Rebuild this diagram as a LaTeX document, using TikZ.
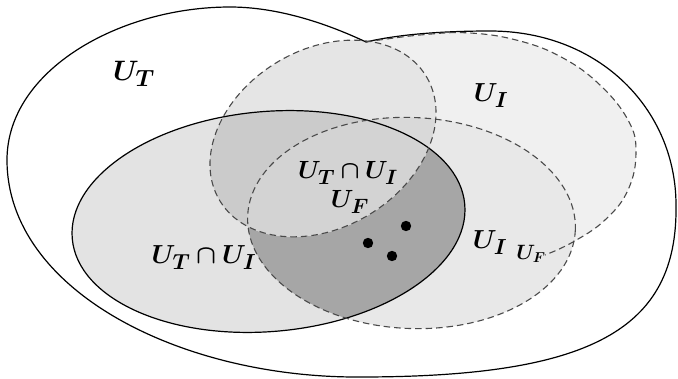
\documentclass[tikz,border=0pt]{standalone}
\usepackage{bm}
\definecolor{cA}{HTML}{F0F0F0}
\definecolor{cS}{HTML}{E3E3E3}
\definecolor{cB}{HTML}{E8E8E8}
\definecolor{cSB}{HTML}{A6A6A6}
\definecolor{cC}{HTML}{E5E5E5}
\definecolor{cCS}{HTML}{CBCBCB}
\definecolor{cCB}{HTML}{D9D9D9}
\definecolor{cCSB}{HTML}{D3D3D3}
\definecolor{dashc}{HTML}{4A4A4A}
\def\shpO{(366,42) .. controls (400,34) and (445,31) .. (490,31) .. controls (600,31) and (676,110) .. (676,205) .. controls (678,330) and (590,377) .. (360,377) .. controls (180,378) and (7,290) .. (7,160) .. controls (7,70) and (120,7) .. (230,7) .. controls (280,7) and (330,25) .. (366,42) -- cycle}
\def\shpS{[rotate around={5:(268.5,221.5)}] (268.5,221.5) ellipse [x radius=197, y radius=110]}
\def\shpB{[rotate around={-2.5:(411.5,223)}] (411.5,223) ellipse [x radius=164, y radius=105.5]}
\def\shpC{[rotate around={31:(323,138.5)}] (323,138.5) ellipse [x radius=120.5, y radius=89]}
\def\shpAarc{plot[smooth, tension=0.7] coordinates {(366,42) (420,35) (470,33) (520,41) (563,58) (600,85) (628,120) (636,152) (628,190) (605,220) (573,242) (545,255)}}
\tikzset{
  solidline/.style={draw=black, line width=1.2pt},
  dashline/.style={draw=dashc, line width=1.1pt, dash pattern=on 6.5pt off 4pt},
  basel/.style={font=\fontsize{24.88}{28}\selectfont, inner sep=0pt},
  hugel/.style={basel, scale=1.13},
  bigl/.style={basel, scale=1.05},
  midl/.style={basel},
  smll/.style={font=\fontsize{20.74}{24}\selectfont, inner sep=0pt},
  dotm/.style={fill=black}
}
\begin{document}
\begin{tikzpicture}[x=1pt,y=-1pt]
\useasboundingbox (0,0) rectangle (678,378);
% fills
\fill[white] \shpO;
\fill[cA] \shpAarc -- (470,250) -- (400,200) -- (380,120) -- cycle;
\fill[cS] \shpS;
\fill[cB] \shpB;
\begin{scope}\clip \shpS; \fill[cSB] \shpB; \end{scope}
\fill[cC] \shpC;
\begin{scope}\clip \shpS; \fill[cCS] \shpC; \end{scope}
\begin{scope}\clip \shpB; \fill[cCB] \shpC; \end{scope}
\begin{scope}\clip \shpS; \clip \shpB; \fill[cCSB] \shpC; \end{scope}
% outlines
\path[solidline] \shpS;
\path[solidline] \shpO;
\path[dashline] \shpB;
\path[dashline] \shpC;
\path[dashline] \shpAarc;
% dots
\fill[dotm] (406,226) circle (5.2pt) node (d1) {};
\fill[dotm] (368,243) circle (5.2pt) node (d2) {};
\fill[dotm] (392,256) circle (5.2pt) node (d3) {};
% labels
\node[hugel] (lut) at (134,74) {$\bm{U_T}$};
\node[bigl] (lui) at (491,96) {$\bm{U_I}$};
\node[midl] (lmid) at (348,173) {$\bm{U_T\cap U_I}$};
\node[midl] (lmidf) at (350,202) {$\bm{U_F}$};
\node[bigl] (lleft) at (204,258) {$\bm{U_T\cap U_I}$};
\node[bigl] (lri) at (490,243) {$\bm{U_I}$};
\node[smll] (lrf) at (531,254) {$\bm{U_F}$};
\end{tikzpicture}
\end{document}
